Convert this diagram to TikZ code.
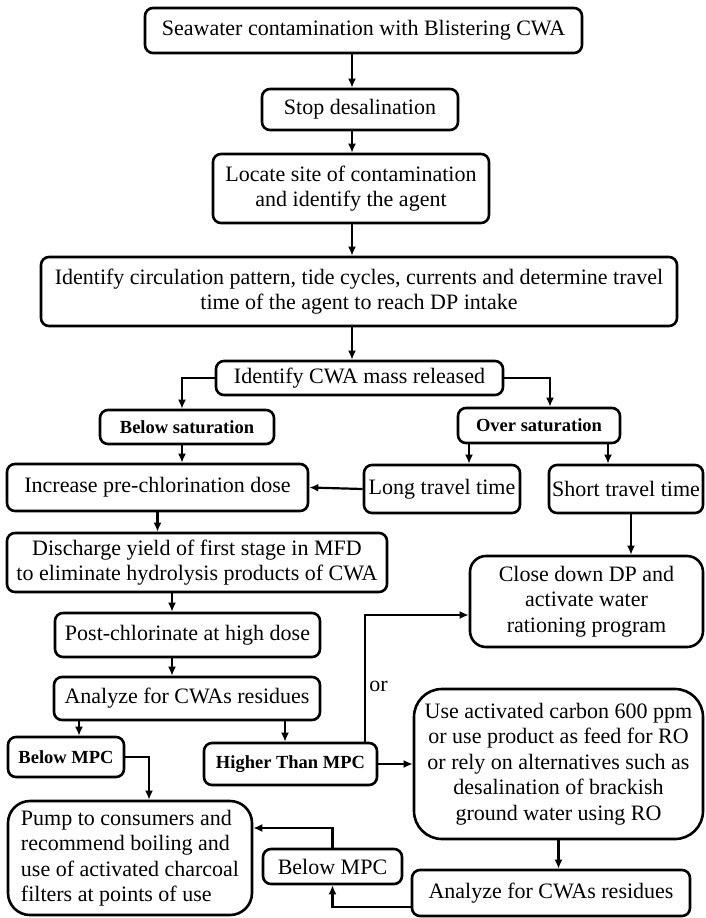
\documentclass[tikz,border=0pt]{standalone}
\usepackage{fontspec}
\setmainfont{Liberation Serif}
\usetikzlibrary{arrows.meta}

\begin{document}
\begin{tikzpicture}[x=1pt, y=-1pt,
	box/.style={draw, line width=2.6pt, rounded corners=8pt, inner sep=2pt, align=center,
		font=\fontsize{22}{25.5}\selectfont},
	tag/.style={box, font=\fontsize{18.5}{21}\selectfont\bfseries},
	flow/.style={line width=2.2pt, -{Latex[length=9pt, width=8pt]}}]
			\useasboundingbox (0,0) rectangle (705,918);
			
			\node[box, minimum width=437pt, minimum height=45pt] (seawater) at (363.5,30.5) {Seawater contamination with Blistering CWA};
			\node[box, minimum width=196pt, minimum height=41pt] (stop) at (360,109.5) {Stop desalination};
			\node[box, minimum width=276pt, minimum height=69pt] (locate) at (351,188.5) {Locate site of contamination\\and identify the agent};
			\node[box, minimum width=636pt, minimum height=69pt] (circ) at (359,291.5) {Identify circulation pattern, tide cycles, currents and determine travel\\time of the agent to reach DP intake};
			\node[box, minimum width=287pt, minimum height=34pt] (mass) at (359.5,378) {Identify CWA mass released};
			\node[tag, minimum width=174pt, minimum height=34pt] (belowsat) at (187,427) {Below saturation};
			\node[tag, minimum width=162pt, minimum height=35pt] (oversat) at (539,425.5) {Over saturation};
			\node[box, minimum width=301pt, minimum height=47pt] (increase) at (157.5,487.5) {Increase pre-chlorination dose};
			\node[box, minimum width=156pt, minimum height=48pt] (long) at (442,489) {Long travel time};
			\node[box, minimum width=154pt, minimum height=48pt] (short) at (626,489) {Short travel time};
			\node[box, minimum width=380pt, minimum height=59pt] (discharge) at (197,562.5) {Discharge yield of first stage in MFD\\to eliminate hydrolysis products of CWA};
			\node[box, rounded corners=16pt, minimum width=233pt, minimum height=91pt] (close) at (586.5,601.5) {Close down DP and\\activate water\\rationing program};
			\node[box, minimum width=265pt, minimum height=44pt] (post) at (187.5,635) {Post-chlorinate at high dose};
			\node[box, minimum width=266pt, minimum height=43pt] (analyze) at (187,698.5) {Analyze for CWAs residues};
			\node[tag, minimum width=116pt, minimum height=40pt] (belowmpc) at (66,757) {Below MPC};
			\node[tag, minimum width=173pt, minimum height=42pt] (higher) at (290.5,764) {Higher Than MPC};
			\node[box, rounded corners=28pt, minimum width=289pt, minimum height=150pt] (use) at (558.5,764) {Use activated carbon 600 ppm\\or use product as feed for RO\\or rely on alternatives such as\\desalination of brackish\\ground water using RO};
			\node[box, rounded corners=22pt, align=left, minimum width=244pt, minimum height=114pt] (pump) at (130,858) {Pump to consumers and\\recommend boiling and\\use of activated charcoal\\filters at points of use};
			\node[box, minimum width=139pt, minimum height=35pt] (belowmpc2) at (332.5,866.5) {Below MPC};
			\node[box, minimum width=278pt, minimum height=46pt] (analyze2) at (551,893) {Analyze for CWAs residues};
			
			\coordinate (axis) at (352,0);
			\coordinate (col) at (172,0);
			\coordinate (bsat) at (182,0);
			\coordinate (osat) at (550,0);
			\coordinate (ltime) at (469,0);
			\coordinate (stime) at (608,0);
			\coordinate (scol) at (631,0);
			\coordinate (lmpc) at (79,0);
			\coordinate (rmpc) at (285,0);
			\coordinate (orcol) at (365,0);
			\coordinate (pcol) at (149,0);
			\coordinate (orrow) at (0,615);
			\coordinate (prow) at (0,828);
			\coordinate (arow) at (0,907);
			
			\draw[flow] (seawater.south -| axis) -- (stop.north -| axis);
			\draw[flow] (stop.south -| axis) -- (locate.north -| axis);
			\draw[flow] (locate.south -| axis) -- (circ.north -| axis);
			\draw[flow] (circ.south -| axis) -- (mass.north -| axis);
			\draw[flow] (mass.west) -| (belowsat.north -| bsat);
			\draw[flow] (mass.east) -| (oversat.north -| osat);
			\draw[flow] (belowsat.south -| bsat) -- (increase.north -| bsat);
			\draw[flow] (oversat.south -| ltime) -- (long.north -| ltime);
			\draw[flow] (oversat.south -| stime) -- (short.north -| stime);
			\draw[flow] (long.west) -- (increase.east);
			\draw[flow] (short.south -| scol) -- (close.north -| scol);
			\draw[flow] (increase.south) -- (discharge.north -| increase.south);
			\draw[flow] (discharge.south -| col) -- (post.north -| col);
			\draw[flow] (post.south -| col) -- (analyze.north -| col);
			\draw[flow] (analyze.south -| lmpc) -- (belowmpc.north -| lmpc);
			\draw[flow] (analyze.south -| rmpc) -- (higher.north -| rmpc);
			\draw[flow] (belowmpc.east) -| (pump.north -| pcol);
			\draw[flow] (higher.north -| orcol) |- node[pos=0.22, right, font=\fontsize{22}{25.5}\selectfont] {or} (close.west |- orrow);
			\draw[flow] (higher.east) -- (higher.east -| use.west);
			\draw[flow] (use.south) -- (analyze2.north -| use.south);
			\draw[flow] (analyze2.west |- arow) -| (belowmpc2.south);
			\draw[flow] (belowmpc2.north) |- (pump.east |- prow);
\end{tikzpicture}
\end{document}
